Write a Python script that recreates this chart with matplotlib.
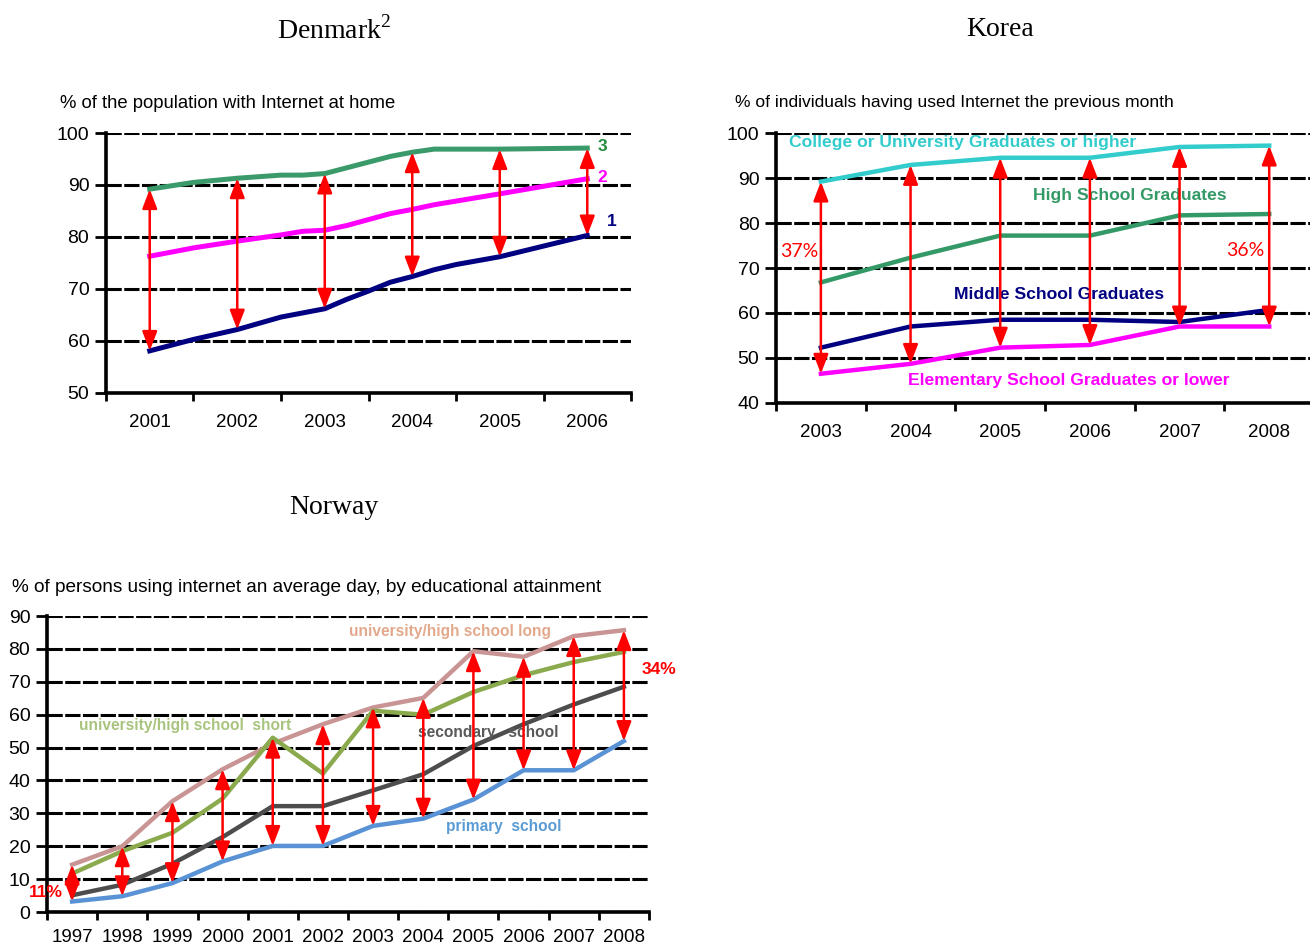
import numpy as np
import matplotlib
matplotlib.use("Agg")
from matplotlib import pyplot as plt
from matplotlib.ticker import MultipleLocator

plt.rcParams["font.family"] = ["Liberation Sans", "DejaVu Sans"]
plt.rcParams["mathtext.fontset"] = "custom"
plt.rcParams["mathtext.rm"] = "Liberation Serif"

# Denmark: % of the population with Internet at home (1, 2, 3 = education level)
dk_years = [2001, 2002, 2003, 2004, 2005, 2006]
dk_x3 = [2001, 2001.5, 2002, 2002.5, 2002.75, 2003, 2003.25, 2003.75, 2004, 2004.25, 2005, 2006]
dk_s3 = [89.2, 90.5, 91.3, 91.9, 91.9, 92.2, 93.3, 95.5, 96.3, 96.9, 96.9, 97.1]
dk_x2 = [2001, 2001.5, 2002, 2002.5, 2002.75, 2003, 2003.25, 2003.75, 2004, 2004.25, 2004.5, 2005, 2006]
dk_s2 = [76.3, 77.9, 79.2, 80.4, 81.1, 81.3, 82.2, 84.5, 85.3, 86.2, 86.9, 88.3, 91.2]
dk_x1 = [2001, 2001.5, 2002, 2002.5, 2003, 2003.25, 2003.5, 2003.75, 2004, 2004.25, 2004.5, 2005, 2006]
dk_s1 = [58.1, 60.3, 62.2, 64.6, 66.2, 68.0, 69.6, 71.3, 72.4, 73.7, 74.7, 76.2, 80.3]

# Korea: % of individuals having used Internet the previous month
kr_years = [2003, 2004, 2005, 2006, 2007, 2008]
kr_college = [89.2, 92.9, 94.5, 94.5, 96.9, 97.2]
kr_high = [66.8, 72.3, 77.2, 77.2, 81.7, 82.0]
kr_middle = [52.3, 57.0, 58.5, 58.5, 58.0, 60.7]
kr_elem = [46.5, 48.7, 52.3, 52.9, 57.0, 57.0]

# Norway: % of persons using internet an average day
no_years = list(range(1997, 2009))
no_long = [14.4, 20.0, 33.7, 43.4, 51.2, 57.1, 62.2, 65.1, 79.3, 77.6, 83.9, 85.7]
no_short = [11.7, 18.5, 24.1, 34.5, 53.0, 42.1, 61.2, 60.0, 66.9, 72.0, 76.0, 79.1]
no_secondary = [5.1, 8.3, 14.7, 22.8, 32.2, 32.2, 37.0, 41.9, 50.5, 57.1, 63.1, 68.5]
no_primary = [3.2, 4.8, 8.8, 15.4, 20.1, 20.1, 26.2, 28.4, 34.2, 43.1, 43.1, 52.0]

RED = "#FF0000"


def style_axes(ax, years, ymin, ymax, pad=15):
    n = len(years)
    ax.set_xlim(-0.5, n - 0.5)
    ax.set_ylim(ymin, ymax)
    ax.set_xticks(range(n))
    ax.set_xticklabels([str(y) for y in years])
    ax.set_xticks(np.arange(n + 1) - 0.5, minor=True)
    ax.yaxis.set_major_locator(MultipleLocator(10))
    ax.tick_params(axis="x", which="major", length=0, pad=pad, labelsize=13.5)
    ax.tick_params(axis="x", which="minor", length=6, width=2, direction="out")
    ax.tick_params(axis="y", length=8, width=2, direction="out", pad=4, labelsize=14)
    for s in ["top", "right"]:
        ax.spines[s].set_visible(False)
    for s in ["left", "bottom"]:
        ax.spines[s].set_linewidth(2.6)
        ax.spines[s].set_zorder(5)
    ax.yaxis.grid(True, color="black", linewidth=2.2, linestyle=(0, (5, 0.8)))
    ax.set_axisbelow(True)


def gap_arrows(ax, xs, tops, bottoms):
    for x, t, b in zip(xs, tops, bottoms):
        ax.annotate("", xy=(x, b), xytext=(x, t),
                    arrowprops=dict(arrowstyle="<|-|>,head_length=0.65,head_width=0.25",
                                    color=RED, lw=1.8, mutation_scale=18,
                                    shrinkA=0, shrinkB=0), zorder=6)


fig = plt.figure(figsize=(13.1, 9.46), dpi=100)

# --- Denmark ---
ax = fig.add_axes([0.0809, 0.5846, 0.4008, 0.2748])
style_axes(ax, dk_years, 50, 100)
x0 = dk_years[0]
ax.plot(np.array(dk_x3) - x0, dk_s3, color="#3A9A6A", lw=3.6, zorder=3)
ax.plot(np.array(dk_x2) - x0, dk_s2, color="#FF00FF", lw=3.6, zorder=3)
ax.plot(np.array(dk_x1) - x0, dk_s1, color="#000080", lw=3.6, zorder=3)
tops = np.interp(dk_years, dk_x3, dk_s3)
bots = np.interp(dk_years, dk_x1, dk_s1)
gap_arrows(ax, np.arange(len(dk_years)), tops, bots)
ax.text(5.12, dk_s3[-1] + 0.3, "3", color="#228B3C", fontsize=12.5, fontweight="bold", va="center")
ax.text(5.12, dk_s2[-1] + 0.3, "2", color="#FF00FF", fontsize=12.5, fontweight="bold", va="center")
ax.text(5.22, dk_s1[-1] + 2.7, "1", color="#000080", fontsize=12.5, fontweight="bold", va="center")
fig.text(60 / 1310, 1 - 103 / 946, "% of the population with Internet at home",
         fontsize=13.3, va="center", ha="left")
fig.text(334 / 1310, 1 - 30 / 946, r"Denmark$^{2}$", fontsize=20,
         family="Liberation Serif", ha="center", va="center")

# --- Korea ---
ax = fig.add_axes([0.5924, 0.5740, 0.4107, 0.2854])
style_axes(ax, kr_years, 40, 100)
xs = np.arange(len(kr_years))
ax.plot(xs, kr_college, color="#33CCCC", lw=3.2, zorder=3)
ax.plot(xs, kr_high, color="#339966", lw=3.2, zorder=3)
ax.plot(xs, kr_middle, color="#000080", lw=3.2, zorder=3)
ax.plot(xs, kr_elem, color="#FF00FF", lw=3.2, zorder=3)
gap_arrows(ax, xs, kr_college, kr_elem)
ax.text(-0.35, 97.8, "College or University Graduates or higher", color="#33CCCC",
        fontsize=12.6, fontweight="bold", va="center", zorder=4)
ax.text(2.37, 86.2, "High School Graduates", color="#339966",
        fontsize=12.6, fontweight="bold", va="center", zorder=4)
ax.text(1.49, 64.1, "Middle School Graduates", color="#000080",
        fontsize=12.6, fontweight="bold", va="center", zorder=4)
ax.text(0.97, 45.1, "Elementary School Graduates or lower", color="#FF00FF",
        fontsize=12.6, fontweight="bold", va="center", zorder=4)
ax.text(-0.46, 73.7, "37%", color=RED, fontsize=14, family="Lato", va="center")
ax.text(4.52, 73.9, "36%", color=RED, fontsize=14, family="Lato", va="center")
fig.text(735 / 1310, 1 - 103 / 946, "% of individuals having used Internet the previous month",
         fontsize=12.6, va="center", ha="left")
fig.text(1000 / 1310, 1 - 30 / 946, "Korea", fontsize=20,
         family="Liberation Serif", ha="center", va="center")

# --- Norway ---
ax = fig.add_axes([0.0359, 0.0359, 0.4595, 0.3129])
style_axes(ax, no_years, 0, 90, pad=12)
xs = np.arange(len(no_years))
ax.plot(xs, no_long, color="#C99494", lw=3.2, zorder=3)
ax.plot(xs, no_short, color="#8BAA4E", lw=3.2, zorder=3)
ax.plot(xs, no_secondary, color="#4D4D4D", lw=3.2, zorder=3)
ax.plot(xs, no_primary, color="#5A92D6", lw=3.2, zorder=3)
tops = np.maximum(no_long, no_short)
gap_arrows(ax, xs, tops, no_primary)
ax.text(5.52, 85.4, "university/high school long", color="#E3A98C",
        fontsize=11.2, fontweight="bold", va="center", zorder=4)
ax.text(0.13, 56.6, "university/high school  short", color="#A9C47F",
        fontsize=11.2, fontweight="bold", va="center", zorder=4)
ax.text(6.9, 54.6, "secondary   school", color="#595959",
        fontsize=11.2, fontweight="bold", va="center", zorder=4)
ax.text(7.46, 25.9, "primary  school", color="#5B9BD5",
        fontsize=11.2, fontweight="bold", va="center", zorder=4)
ax.text(-0.86, 5.8, "11%", color=RED, fontsize=12.5, fontweight="bold", va="center", zorder=7)
ax.text(11.35, 73.7, "34%", color=RED, fontsize=12.5, fontweight="bold", va="center",
        clip_on=False)
fig.text(12 / 1310, 1 - 587 / 946,
         "% of persons using internet an average day, by educational attainment",
         fontsize=13.7, va="center", ha="left")
fig.text(334 / 1310, 1 - 508 / 946, "Norway", fontsize=20,
         family="Liberation Serif", ha="center", va="center")

fig.savefig("out.png", dpi=100)
